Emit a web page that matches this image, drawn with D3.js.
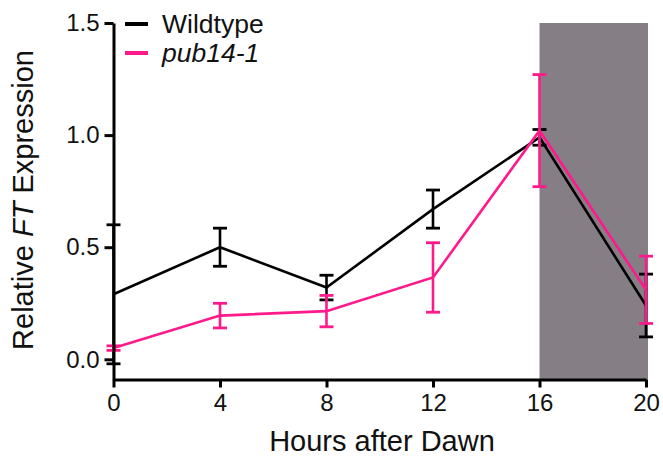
<!DOCTYPE html>
<html><head><meta charset="utf-8">
<script src="https://cdn.jsdelivr.net/npm/d3@7"></script>
<style>body{margin:0;background:#fff;} text{font-family:"Liberation Sans",Arial,sans-serif;}</style>
</head><body>
<svg id="c" width="663" height="462"></svg>
<script>
const hours = [0, 4, 8, 12, 16, 20];
const wtMean = [0.29, 0.50, 0.32, 0.67, 0.99, 0.24];
const wtErr  = [0.31, 0.085, 0.055, 0.085, 0.035, 0.14];
const mutMean = [0.05, 0.195, 0.215, 0.365, 1.02, 0.31];
const mutErr  = [0.01, 0.055, 0.07, 0.155, 0.25, 0.15];
const yTicks = [0.0, 0.5, 1.0, 1.5];
const xTicks = [0, 4, 8, 12, 16, 20];
const darkStart = 16, darkEnd = 20;

const svg = d3.select("#c");
const x = d3.scaleLinear().domain([0, 20]).range([113.5, 646]);
const y = d3.scaleLinear().domain([-0.09, 1.5]).range([379.5, 23]);

// dark period
svg.append("rect").attr("x", x(darkStart)).attr("y", y(1.5))
  .attr("width", x(darkEnd) - x(darkStart) + 2).attr("height", y(-0.09) - y(1.5))
  .attr("fill", "#857e85");

function series(mean, err, color) {
  const g = svg.append("g");
  const line = d3.line().x((d, i) => x(hours[i])).y(d => y(d));
  g.append("path").datum(mean).attr("d", line).attr("fill", "none")
    .attr("stroke", color).attr("stroke-width", 2.6).attr("stroke-linejoin", "miter");
  mean.forEach((m, i) => {
    const cx = x(hours[i]), hi = y(m + err[i]), lo = y(m - err[i]);
    g.append("line").attr("x1", cx).attr("x2", cx).attr("y1", hi).attr("y2", lo)
      .attr("stroke", color).attr("stroke-width", 2.6);
    [hi, lo].forEach(yy => g.append("line").attr("x1", cx - 7).attr("x2", cx + 7)
      .attr("y1", yy).attr("y2", yy).attr("stroke", color).attr("stroke-width", 2.8));
  });
}
series(wtMean, wtErr, "#000");
series(mutMean, mutErr, "#ff1a8c");

// axes
const yAxis = d3.axisLeft(y).tickValues(yTicks).tickFormat(d3.format(".1f")).tickSize(9).tickSizeOuter(0).tickPadding(5);
const yg = svg.append("g").attr("transform", `translate(${x(0)},0)`).call(yAxis);
const xAxis = d3.axisBottom(x).tickValues(xTicks).tickSize(8).tickSizeOuter(0).tickPadding(6);
const xg = svg.append("g").attr("transform", `translate(0,${y(-0.09)})`).call(xAxis);
[yg, xg].forEach(g => {
  g.select(".domain").attr("stroke", "#000").attr("stroke-width", 3);
  g.selectAll(".tick line").attr("stroke", "#000").attr("stroke-width", 3);
  g.selectAll(".tick text").attr("font-size", 24).attr("fill", "#111")
    .attr("font-family", "'Liberation Sans',Arial,sans-serif");
});

// axis titles
svg.append("text").attr("x", 382).attr("y", 451).attr("text-anchor", "middle")
  .attr("font-size", 29).attr("fill", "#111").text("Hours after Dawn");
const yl = svg.append("text").attr("transform", "translate(33,200) rotate(-90)")
  .attr("text-anchor", "middle").attr("font-size", 29).attr("fill", "#111");
yl.append("tspan").text("Relative ");
yl.append("tspan").attr("font-style", "italic").text("FT");
yl.append("tspan").text(" Expression");

// legend
const leg = [{label: "Wildtype", color: "#000", italic: false, ly: 24, ty: 32.5},
             {label: "pub14-1", color: "#ff1a8c", italic: true, ly: 53, ty: 62}];
leg.forEach(d => {
  svg.append("line").attr("x1", 125).attr("x2", 148).attr("y1", d.ly).attr("y2", d.ly)
    .attr("stroke", d.color).attr("stroke-width", 4);
  svg.append("text").attr("x", 162).attr("y", d.ty).attr("font-size", 26.5).attr("fill", "#111")
    .attr("font-style", d.italic ? "italic" : "normal").text(d.label);
});
</script>
</body></html>
